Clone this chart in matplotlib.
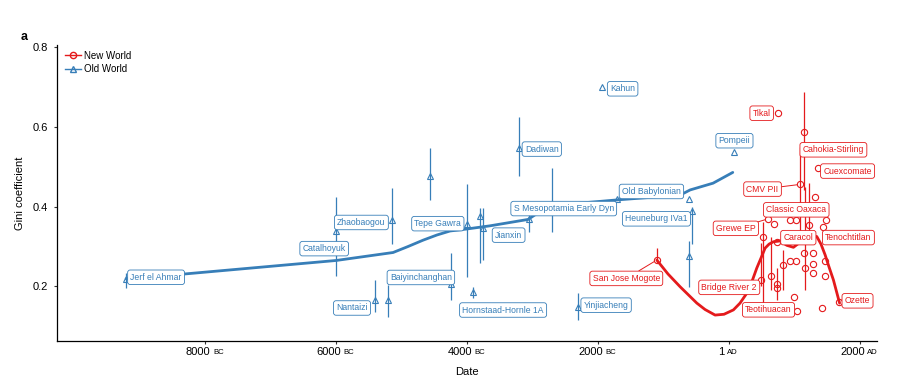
import numpy as np
import matplotlib.pyplot as plt
from matplotlib.lines import Line2D

plt.rcParams['font.family'] = ['Liberation Sans', 'DejaVu Sans']

RED = '#E41A1C'
BLUE = '#377EB8'

# Old World sites (year, Gini, error bar low/high; nan = no bar)
ow_site = ['Jerf el Ahmar', 'Catalhoyuk', 'Zhaobaogou', '', 'Nantaizi', '',
           'Baiyinchanghan', 'Tepe Gawra', 'Hornstaad-Hornle 1A', '', '',
           'Jianxin', 'Dadiwan', 'S Mesopotamia Early Dyn', 'Kahun',
           'Yinjiacheng', 'Old Babylonian', '', 'Heuneburg IVa1', '', 'Pompeii']
ow_year = [-9207, -5998, -5147, -4558, -5403, -5199, -4249, -4005, -3901,
           -3804, -3757, -3057, -3202, -2703, -1939, -2306, -1705, -605,
           -555, -605, 79]
ow_gini = [0.218, 0.339, 0.367, 0.477, 0.166, 0.166, 0.206, 0.356, 0.186,
           0.377, 0.346, 0.368, 0.547, 0.397, 0.700, 0.148, 0.419, 0.419,
           0.388, 0.277, 0.538]
ow_lo = [0.196, 0.226, 0.306, 0.417, 0.135, 0.124, 0.166, 0.224, 0.170,
         0.258, 0.266, 0.336, 0.477, 0.336, np.nan, 0.116, np.nan, np.nan,
         0.306, 0.198, np.nan]
ow_hi = [0.234, 0.425, 0.446, 0.547, 0.216, 0.204, 0.285, 0.456, 0.199,
         0.396, 0.396, 0.392, 0.626, 0.496, np.nan, 0.184, np.nan, np.nan,
         0.400, 0.315, np.nan]

# New World sites
nw_site = ['San Jose Mogote', 'Tikal', 'Cahokia-Stirling', 'CMV PII',
           'Cuexcomate', '', 'Classic Oaxaca', 'Grewe EP', '', '', '',
           'Caracol', 'Tenochtitlan', '', 'Bridge River 2', '', '', '', '',
           '', '', '', '', '', '', '', '', '', '', '', 'Teotihuacan', '',
           'Ozette']
nw_year = [-1100, 758, 1143, 1094, 1360, 1319, 1028, 593, 697, 937, 1482,
           1231, 1445, 524, 494, 642, 733, 834, 937, 1028, 1150, 1293, 1471,
           1293, 1166, 1293, 1471, 743, 743, 1002, 1039, 1421, 1690]
nw_gini = [0.266, 0.636, 0.587, 0.456, 0.496, 0.425, 0.367, 0.369, 0.357,
           0.367, 0.367, 0.354, 0.350, 0.325, 0.216, 0.227, 0.312, 0.254,
           0.264, 0.264, 0.285, 0.285, 0.264, 0.255, 0.245, 0.233, 0.227,
           0.205, 0.195, 0.174, 0.137, 0.145, 0.162]
nw_lo = [0.258, np.nan, 0.442, 0.316, np.nan, np.nan, np.nan, np.nan, np.nan,
         np.nan, np.nan, 0.316, np.nan, 0.158, 0.202, 0.190, np.nan, 0.190,
         np.nan, np.nan, np.nan, np.nan, np.nan, np.nan, 0.190, np.nan,
         np.nan, np.nan, 0.166, np.nan, np.nan, np.nan, np.nan]
nw_hi = [0.296, np.nan, 0.688, 0.551, np.nan, np.nan, np.nan, np.nan, np.nan,
         np.nan, np.nan, 0.459, np.nan, 0.362, 0.309, 0.325, np.nan, 0.291,
         np.nan, np.nan, np.nan, np.nan, np.nan, np.nan, 0.450, np.nan,
         np.nan, np.nan, 0.246, np.nan, np.nan, np.nan, np.nan]

# smoothed trends
ow_fit_year = [-9207, -8321, -7160, -5998, -5128, -4900, -4669, -4457, -4257,
               -4002, -3646, -3065, -2882, -2270, -1705, -743, -590, -239, 62]
ow_fit_gini = [0.219, 0.231, 0.248, 0.265, 0.285, 0.300, 0.316, 0.329, 0.339,
               0.344, 0.352, 0.368, 0.388, 0.409, 0.417, 0.429, 0.442, 0.459,
               0.486]
nw_fit_year = [-1098, -927, -742, -487, -362, -208, -72, 72, 173, 277, 348,
               429, 493, 556, 616, 683, 785, 888, 989, 1091, 1213, 1346, 1410,
               1473, 1532, 1600, 1694]
nw_fit_gini = [0.266, 0.231, 0.199, 0.158, 0.142, 0.128, 0.130, 0.141, 0.158,
               0.183, 0.209, 0.246, 0.271, 0.296, 0.306, 0.312, 0.314, 0.303,
               0.298, 0.311, 0.329, 0.325, 0.306, 0.279, 0.249, 0.216, 0.158]

x_ticks = [-8000, -6000, -4000, -2000, 0, 2000]
x_nums = ['8000', '6000', '4000', '2000', '1', '2000']
x_eras = ['BC', 'BC', 'BC', 'BC', 'AD', 'AD']

# label offsets (points) from the marker, and whether a leader line shows
label_pos = {
    'Jerf el Ahmar': (21.6, 1.4, False), 'Catalhoyuk': (-8.6, -12.7, False),
    'Zhaobaogou': (-21.9, -1.9, False), 'Nantaizi': (-16.6, -5.8, False),
    'Baiyinchanghan': (-21.4, 4.7, True), 'Tepe Gawra': (-20.7, 0.4, False),
    'Hornstaad-Hornle 1A': (21.4, -13, False), 'Jianxin': (-14.4, -11.3, False),
    'Dadiwan': (16.3, -0.7, False), 'S Mesopotamia Early Dyn': (8.6, -0.5, False),
    'Kahun': (15, -1.2, False), 'Yinjiacheng': (20.4, 1.4, False),
    'Old Babylonian': (24.7, 5.5, True), 'Heuneburg IVa1': (-25.9, -5.3, False),
    'Pompeii': (0.4, 7.9, False),
    'San Jose Mogote': (-21.9, -13.2, True), 'Tikal': (-12, -0.4, False),
    'Cahokia-Stirling': (21.5, -12.7, False), 'CMV PII': (-27.2, -3.4, True),
    'Cuexcomate': (21.5, -1.9, False), 'Classic Oaxaca': (0.2, 7.2, False),
    'Grewe EP': (-22.8, -6.7, True), 'Caracol': (-7.9, -9.1, False),
    'Tenochtitlan': (18.1, -7.9, False), 'Bridge River 2': (-22.9, -5.3, False),
    'Teotihuacan': (-20.3, 1.2, False), 'Ozette': (13.1, 0.5, False),
}


def draw_group(ax, site, year, gini, lo, hi, fit_x, fit_y, color, marker, ms):
    year, gini = np.array(year), np.array(gini)
    lo, hi = np.array(lo), np.array(hi)
    ok = ~np.isnan(lo)
    ax.vlines(year[ok], lo[ok], hi[ok], color=color, lw=0.9, zorder=1)
    ax.plot(fit_x, fit_y, color=color, lw=2.0, zorder=2,
            solid_joinstyle='round', solid_capstyle='round')
    ax.plot(year, gini, ls='none', marker=marker, ms=ms, mfc='none',
            mec=color, mew=0.8, zorder=3)
    for name, x, y in zip(site, year, gini):
        if not name:
            continue
        dx, dy, seg = label_pos[name]
        arrow = dict(arrowstyle='-', color=color, lw=0.7, shrinkA=0,
                     shrinkB=2) if seg else None
        ax.annotate(name, (x, y), xytext=(dx, dy), textcoords='offset points',
                    ha='center', va='center', fontsize=6.2, color=color,
                    bbox=dict(boxstyle='round,pad=0.32,rounding_size=0.3',
                              fc='white', ec=color, lw=0.6),
                    arrowprops=arrow, zorder=4)


fig = plt.figure(figsize=(9.16, 3.78), dpi=100)
ax = fig.add_axes([0.0619, 0.0987, 0.8952, 0.7823])

draw_group(ax, nw_site, nw_year, nw_gini, nw_lo, nw_hi, nw_fit_year,
           nw_fit_gini, RED, 'o', 4.5)
draw_group(ax, ow_site, ow_year, ow_gini, ow_lo, ow_hi, ow_fit_year,
           ow_fit_gini, BLUE, '^', 5)

ax.set_xlim(-10267, 2261)
ax.set_ylim(0.0637, 0.8058)
ax.set_yticks([0.2, 0.4, 0.6, 0.8])
ax.set_yticklabels(['0.2', '0.4', '0.6', '0.8'], fontsize=8)
ax.set_xticks(x_ticks)
ax.set_xticklabels([])
ax.tick_params(length=2.5, width=0.8, colors='#333333', labelcolor='black')
for s in ['top', 'right']:
    ax.spines[s].set_visible(False)
for s in ['left', 'bottom']:
    ax.spines[s].set_linewidth(0.9)

# tick labels with small-caps era suffix
for t, num, era in zip(x_ticks, x_nums, x_eras):
    wn = len(num) * 4.45
    r = (wn - 8.3 - 1.8) / 2
    ax.annotate(num, (t, 0), xycoords=('data', 'axes fraction'),
                xytext=(r, -4.5), textcoords='offset points',
                ha='right', va='top', fontsize=8)
    ax.annotate(era, (t, 0), xycoords=('data', 'axes fraction'),
                xytext=(r + 1.8, -5.9), textcoords='offset points',
                ha='left', va='top', fontsize=5.6)

ax.set_xlabel('Date', fontsize=8, labelpad=13)
ax.set_ylabel('Gini coefficient', fontsize=8, labelpad=6)

handles = [Line2D([], [], color=RED, marker='o', mfc='none', ms=4.5, lw=1),
           Line2D([], [], color=BLUE, marker='^', mfc='none', ms=5, lw=1)]
ax.legend(handles, ['New World', 'Old World'], loc='upper left',
          bbox_to_anchor=(0.0, 1.01), frameon=False, fontsize=7,
          handlelength=1.6, handletextpad=0.3, labelspacing=0.35)

fig.text(0.022, 0.895, 'a', fontsize=9, fontweight='bold')

fig.savefig('out.png', dpi=100)
